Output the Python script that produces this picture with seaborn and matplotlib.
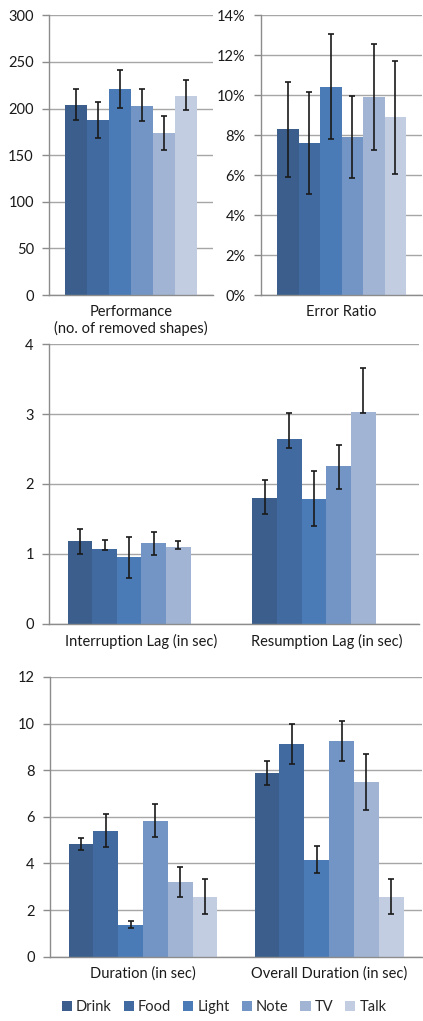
import numpy as np
import pandas as pd
import matplotlib
matplotlib.use('Agg')
import matplotlib.pyplot as plt
from matplotlib.ticker import FixedLocator, FixedFormatter, NullFormatter, FuncFormatter
from matplotlib.patches import Patch
import seaborn as sns

conditions = ['Drink', 'Food', 'Light', 'Note', 'TV', 'Talk']
colors = ['#3b5e8c', '#416aa0', '#4a7bb7', '#7395c6', '#a2b4d4', '#c2cde2']

# top left: performance
perf_labels = ['Performance\n(no. of removed shapes)']
perf_mean = [[204, 188, 221, 203, 174, 214]]
perf_low = [[187.5, 168.5, 200.5, 187, 156, 198]]
perf_high = [[220.5, 207.5, 241.5, 220.5, 192.5, 231]]

# top right: error ratio (%)
err_labels = ['Error Ratio']
err_mean = [[8.3, 7.6, 10.4, 7.9, 9.9, 8.9]]
err_low = [[5.9, 5.05, 7.8, 5.85, 7.25, 6.05]]
err_high = [[10.65, 10.15, 13.05, 9.95, 12.55, 11.7]]

# middle: lags (no Talk bars)
lag_labels = ['Interruption Lag (in sec)', 'Resumption Lag (in sec)']
lag_mean = [[1.18, 1.07, 0.95, 1.15, 1.10, np.nan],
            [1.80, 2.64, 1.78, 2.25, 3.03, np.nan]]
lag_low = [[1.00, 1.05, 0.66, 0.99, 1.07, np.nan],
           [1.57, 2.52, 1.40, 1.93, 3.01, np.nan]]
lag_high = [[1.36, 1.20, 1.24, 1.31, 1.18, np.nan],
            [2.05, 3.02, 2.18, 2.56, 3.66, np.nan]]

# bottom: durations
dur_labels = ['Duration (in sec)', 'Overall Duration (in sec)']
dur_mean = [[4.83, 5.41, 1.37, 5.84, 3.21, 2.57],
            [7.87, 9.12, 4.14, 9.25, 7.49, 2.57]]
dur_low = [[4.56, 4.71, 1.23, 5.13, 2.57, 1.83],
           [7.37, 8.26, 3.57, 8.39, 6.29, 1.83]]
dur_high = [[5.10, 6.11, 1.54, 6.57, 3.86, 3.34],
            [8.40, 9.99, 4.74, 10.11, 8.69, 3.34]]

sns.set_theme(style='white')
plt.rcParams['font.family'] = ['Lato', 'DejaVu Sans']
plt.rcParams['font.size'] = 10.5

grey = '#8c8c8c'


def draw(ax, labels, means, lows, highs, ylim, step, fmt=None):
    rows = []
    for ci, lab in enumerate(labels):
        for hi, cond in enumerate(conditions):
            rows.append({'metric': lab, 'condition': cond, 'value': means[ci][hi]})
    df = pd.DataFrame(rows).dropna()
    sns.barplot(data=df, x='metric', y='value', hue='condition', order=labels,
                hue_order=conditions, palette=colors, saturation=1, errorbar=None,
                width=0.8, legend=False, linewidth=0, ax=ax)

    # error bars placed on the drawn bars
    for bar in ax.patches:
        h = bar.get_height()
        if np.isnan(h) or h == 0:
            continue
        cx = bar.get_x() + bar.get_width() / 2
        ci = int(round(cx))
        hi = int(round((cx - ci + 0.4) / bar.get_width() - 0.5))
        lo, up = lows[ci][hi], highs[ci][hi]
        m = means[ci][hi]
        ax.errorbar(cx, m, yerr=[[m - lo], [up - m]], color='#1a1a1a',
                    lw=1.2, capsize=2.5, capthick=1.2, fmt='none', zorder=5)

    n = len(labels)
    ax.set_xlim(-0.5, n - 0.5)
    ax.set_ylim(*ylim)
    ax.set_yticks(np.arange(ylim[0], ylim[1] + step / 2, step))
    if fmt is not None:
        ax.yaxis.set_major_formatter(FuncFormatter(fmt))
    ax.xaxis.set_major_locator(FixedLocator(np.arange(n + 1) - 0.5))
    ax.xaxis.set_major_formatter(NullFormatter())
    ax.xaxis.set_minor_locator(FixedLocator(np.arange(n)))
    ax.xaxis.set_minor_formatter(FixedFormatter(labels))
    ax.tick_params(axis='x', which='major', length=5, width=1, color=grey, direction='out')
    ax.tick_params(axis='x', which='minor', length=0, pad=7, labelsize=10.5, labelcolor='#1a1a1a')
    ax.tick_params(axis='y', length=5, width=1, color=grey, direction='out', left=True,
                   labelsize=10.5, labelcolor='#1a1a1a', pad=6)
    ax.set_xlabel('')
    ax.set_ylabel('')
    ax.yaxis.grid(True, color='#a6a6a6', lw=1)
    ax.set_axisbelow(True)
    for s in ['top', 'right']:
        ax.spines[s].set_visible(False)
    for s in ['left', 'bottom']:
        ax.spines[s].set_color(grey)
        ax.spines[s].set_linewidth(1)


fig = plt.figure(figsize=(4.23, 10.21), dpi=100)
ax1 = fig.add_axes([0.116, 0.711, 0.388, 0.274])
ax2 = fig.add_axes([0.617, 0.711, 0.381, 0.274])
ax3 = fig.add_axes([0.116, 0.389, 0.874, 0.274])
ax4 = fig.add_axes([0.118, 0.063, 0.880, 0.274])

draw(ax1, perf_labels, perf_mean, perf_low, perf_high, (0, 300), 50)
draw(ax2, err_labels, err_mean, err_low, err_high, (0, 14), 2, lambda v, p: f'{v:.0f}%')
draw(ax3, lag_labels, lag_mean, lag_low, lag_high, (0, 4), 1)
draw(ax4, dur_labels, dur_mean, dur_low, dur_high, (0, 12), 2)

handles = [Patch(facecolor=c, edgecolor='none') for c in colors]
fig.legend(handles, conditions, loc='lower center', bbox_to_anchor=(0.53, -0.006), ncol=6,
           frameon=False, handlelength=0.7, handleheight=0.7, handletextpad=0.3,
           columnspacing=0.8, fontsize=10.5)

fig.savefig('out.png', dpi=100)
